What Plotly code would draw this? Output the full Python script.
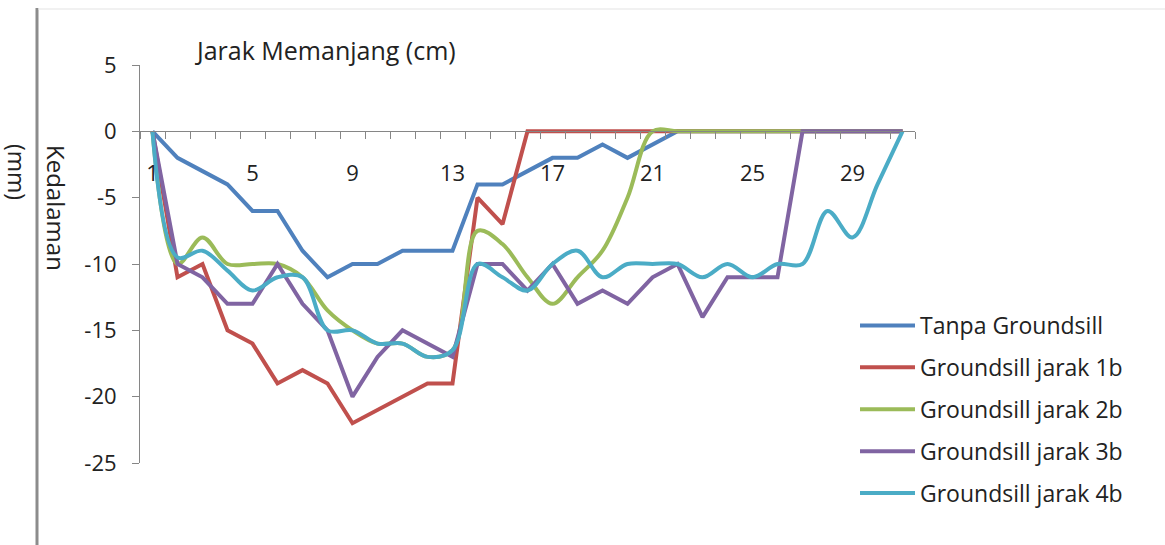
import plotly.graph_objects as go

# ── Data ──────────────────────────────────────────────────
jarak = list(range(1, 32))

tanpa = [0, -2, -3, -4, -6, -6, -9, -11, -10, -10, -9, -9, -9, -4, -4, -3,
         -2, -2, -1, -2, -1, 0, 0, 0, 0, 0, 0, 0, 0, 0, 0]
jarak_1b = [0, -11, -10, -15, -16, -19, -18, -19, -22, -21, -20, -19, -19, -5, -7, 0,
            0, 0, 0, 0, 0, 0, 0, 0, 0, 0, 0, 0, 0, 0, 0]
jarak_2b = [0, -10, -8, -10, -10, -10, -11, -13.5, -15, -16, -16, -17, -16.5, -7.5, -8.5, -11,
            -13, -11, -9, -5, 0, 0, 0, 0, 0, 0, 0, 0, 0, 0, 0]
jarak_3b = [0, -10, -11, -13, -13, -10, -13, -15, -20, -17, -15, -16, -17, -10, -10, -12,
            -10, -13, -12, -13, -11, -10, -14, -11, -11, -11, 0, 0, 0, 0, 0]
jarak_4b = [0, -9.5, -9, -10.5, -12, -11, -11, -15, -15, -16, -16, -17, -16.5, -10, -11, -12,
            -10, -9, -11, -10, -10, -10, -11, -10, -11, -10, -10, -6, -8, -4, 0]

series = [
    ("Tanpa Groundsill",    tanpa,    "#4F81BD", "linear"),
    ("Groundsill jarak 1b", jarak_1b, "#C0504D", "linear"),
    ("Groundsill jarak 2b", jarak_2b, "#9BBB59", "spline"),
    ("Groundsill jarak 3b", jarak_3b, "#8064A2", "linear"),
    ("Groundsill jarak 4b", jarak_4b, "#4BACC6", "spline"),
]

x_ticks = [1, 5, 9, 13, 17, 21, 25, 29]
y_ticks = [5, 0, -5, -10, -15, -20, -25]

FONT = "Open Sans"
AXIS_CLR = "#868686"

# plot area in window pixels: left 140, right 915, top 65, bottom 463
# (body margin is removed in the page, so figure px == window px)
W, H = 1165, 545
L, T = 140, 65
R, B = W - 915, H - 463
pw, ph = W - L - R, H - T - B


def px(x):
    return (x - L) / pw


def py(y):
    return (H - B - y) / ph


fig = go.Figure()
for i, (name, vals, clr, shape) in enumerate(series):
    fig.add_trace(go.Scatter(
        x=jarak, y=vals, name=name, mode="lines",
        line=dict(color=clr, width=4, shape=shape),
        legendgroup=f"g{i}",
    ))

fig.update_layout(
    width=W, height=H,
    margin=dict(l=L, r=R, t=T, b=B),
    paper_bgcolor="white", plot_bgcolor="white",
    font=dict(family=FONT, size=22, color="#222"),
    showlegend=True,
    legend=dict(
        x=px(855), y=py(304), xanchor="left", yanchor="top",
        font=dict(size=23), tracegroupgap=9,
        bgcolor="rgba(0,0,0,0)", itemwidth=55,
    ),
)

fig.update_xaxes(
    range=[0.5, 31.5], tickmode="array", tickvals=x_ticks,
    ticktext=[str(v) for v in x_ticks],
    ticks="", showline=True, linecolor=AXIS_CLR, linewidth=1,
    showgrid=False, zeroline=False,
    anchor="free", position=25 / 30,
    ticklabelstandoff=22,
    minor=dict(tick0=0.5, dtick=1, ticks="outside", ticklen=7,
               tickcolor=AXIS_CLR, showgrid=False),
)
fig.update_yaxes(
    range=[-25, 5], tickmode="array", tickvals=y_ticks,
    ticktext=[str(v) for v in y_ticks],
    ticks="outside", ticklen=7, tickcolor=AXIS_CLR,
    showline=True, linecolor=AXIS_CLR, linewidth=1,
    showgrid=False, zeroline=False, ticklabelstandoff=11,
)

# chart title (Excel-style, sits inside the frame)
fig.add_annotation(
    text="Jarak Memanjang (cm)", xref="paper", yref="paper",
    x=px(325), y=py(50), xanchor="center", yanchor="middle",
    showarrow=False, font=dict(size=25),
)

# rotated y-axis title split on either side of the frame line
fig.add_annotation(
    text="Kedalaman", xref="paper", yref="paper",
    x=px(57), y=py(143), xanchor="center", yanchor="top",
    textangle=90, showarrow=False, font=dict(size=24),
)
fig.add_annotation(
    text="(mm)", xref="paper", yref="paper",
    x=px(17), y=py(143), xanchor="center", yanchor="top",
    textangle=90, showarrow=False, font=dict(size=23), borderpad=0,
)

# outer frame edges
fig.add_shape(type="line", xref="paper", yref="paper",
              x0=px(37), x1=px(37), y0=py(8), y1=py(560),
              line=dict(color="#8c8c8c", width=3))
fig.add_shape(type="line", xref="paper", yref="paper",
              x0=px(38), x1=px(1180), y0=py(9), y1=py(9),
              line=dict(color="#e3e3e3", width=1))

fig.write_html("out.html", config={"displayModeBar": False},
               post_script="document.body.style.margin = '0';")
